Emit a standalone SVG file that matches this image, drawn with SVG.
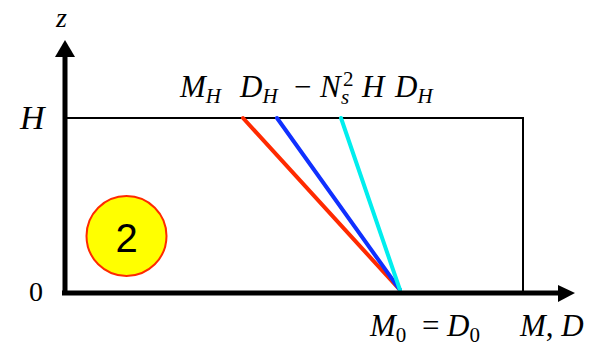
<svg xmlns="http://www.w3.org/2000/svg" width="597" height="349" viewBox="0 0 597 349">
<style>
.m{font-family:"Liberation Serif","DejaVu Serif",serif;font-style:italic;fill:#000}
.r{font-family:"Liberation Serif","DejaVu Serif",serif;fill:#000}
.ax{stroke:#000;stroke-width:5;fill:none}
.ln{stroke-width:4;stroke-linecap:round;fill:none}
</style>
<rect width="597" height="349" fill="#fff"/>
<g id="box"><path d="M65 118 H523 V292" stroke="#000" stroke-width="2" fill="none"/></g>
<g id="connectors">
<line class="ln" x1="243" y1="118" x2="400" y2="290" stroke="#ff2a00"/>
<line class="ln" x1="277" y1="118" x2="400" y2="290" stroke="#1030ff"/>
<line class="ln" x1="341" y1="118" x2="400" y2="290" stroke="#00eeee"/>
</g>
<g id="axes">
<line class="ax" x1="65" y1="295" x2="65" y2="55"/>
<polygon points="65,40 55,57 75,57" fill="#000"/>
<line class="ax" x1="62" y1="293" x2="560" y2="293"/>
<polygon points="575,293 558,285 558,302" fill="#000"/>
</g>
<g id="circle2">
<circle cx="126.5" cy="236" r="40" fill="#ffff00" stroke="#ff2a00" stroke-width="2"/>
<text x="126.5" y="252" font-family="Liberation Sans,Arial,sans-serif" font-size="40" text-anchor="middle">2</text>
</g>
<g id="labels">
<text class="m" x="56" y="27" font-size="28">z</text>
<text class="m" x="20" y="129" font-size="34">H</text>
<text class="r" x="29" y="301" font-size="28">0</text>
<text class="m" x="180" y="97" font-size="31">M<tspan font-size="21" dy="6">H</tspan></text>
<text class="m" x="240" y="97" font-size="31">D<tspan font-size="21" dy="6">H</tspan></text>
<text class="r" x="294" y="97" font-size="31">−</text>
<text class="m" x="320" y="97" font-size="31">N<tspan class="r" font-style="normal" font-size="21" x="343" dy="-11">2</tspan><tspan font-size="21" x="341" dy="18">s</tspan><tspan x="362" dy="-7">H</tspan></text>
<text class="m" x="395" y="97" font-size="31">D<tspan font-size="21" dy="6">H</tspan></text>
<text class="m" x="370" y="336" font-size="31">M<tspan class="r" font-style="normal" font-size="21" dy="6">0</tspan></text>
<text class="r" x="422" y="336" font-size="31">=</text>
<text class="m" x="447" y="336" font-size="31">D<tspan font-style="normal" font-size="21" dy="6">0</tspan></text>
<text class="m" x="520" y="336" font-size="31">M<tspan font-style="normal">,</tspan> D</text>
</g>
</svg>
